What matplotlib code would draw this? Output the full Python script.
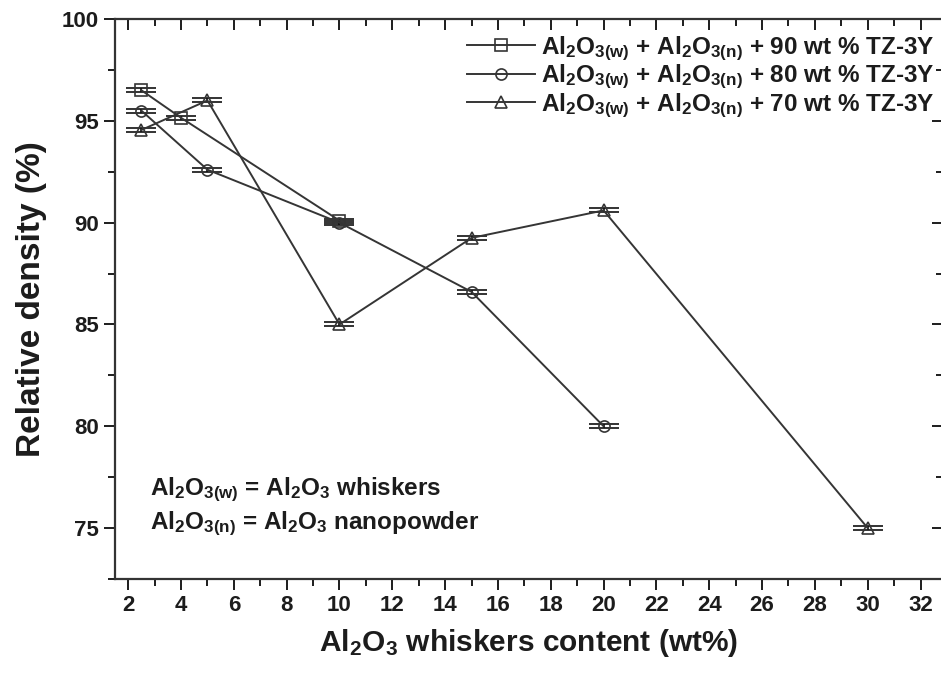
import matplotlib
matplotlib.use("Agg")
import matplotlib.pyplot as plt
from matplotlib.ticker import MultipleLocator

# -------------------------
# Data
# -------------------------
x_90 = [2.5, 4, 10]
y_90 = [96.5, 95.15, 90.1]
e_90 = [0.1, 0.1, 0.1]

x_80 = [2.5, 5, 10, 15, 20]
y_80 = [95.5, 92.6, 90.0, 86.6, 80.0]
e_80 = [0.1, 0.1, 0.1, 0.1, 0.1]

x_70 = [2.5, 5, 10, 15, 20, 30]
y_70 = [94.55, 96.0, 85.0, 89.25, 90.6, 75.0]
e_70 = [0.1, 0.1, 0.1, 0.1, 0.1, 0.1]

labels = [
    r"Al$_2$O$_{3(w)}$ + Al$_2$O$_{3(n)}$ + 90 wt % TZ-3Y",
    r"Al$_2$O$_{3(w)}$ + Al$_2$O$_{3(n)}$ + 80 wt % TZ-3Y",
    r"Al$_2$O$_{3(w)}$ + Al$_2$O$_{3(n)}$ + 70 wt % TZ-3Y",
]

# -------------------------
# Style
# -------------------------
plt.rcParams["font.family"] = ["Liberation Sans", "DejaVu Sans"]
plt.rcParams["font.weight"] = "bold"
plt.rcParams["axes.labelweight"] = "bold"
plt.rcParams["mathtext.fontset"] = "custom"
plt.rcParams["mathtext.rm"] = "Liberation Sans:bold"
plt.rcParams["mathtext.bf"] = "Liberation Sans:bold"
plt.rcParams["mathtext.it"] = "Liberation Sans:bold"
plt.rcParams["mathtext.default"] = "bf"

TEXT = "#1c1c1c"
LINE = "#353535"

fig = plt.figure(figsize=(9.41, 6.79), dpi=100)
ax = fig.add_axes([115 / 941, 1 - 579 / 679, (943 - 115) / 941, (579 - 19) / 679])

series = [
    (x_90, y_90, e_90, "s", labels[0]),
    (x_80, y_80, e_80, "o", labels[1]),
    (x_70, y_70, e_70, "^", labels[2]),
]

handles = []
for xs, ys, es, mk, lab in series:
    cont = ax.errorbar(
        xs, ys, yerr=es,
        color=LINE, linewidth=1.4,
        marker=mk, markersize=8, markerfacecolor="none",
        markeredgecolor=LINE, markeredgewidth=1.2,
        ecolor="#111111", elinewidth=1.2,
        capsize=11, capthick=2.8,
        label=lab,
    )
    handles.append(cont[0])

ax.set_xlim(1.5, 32.85)
ax.set_ylim(72.5, 100)

ax.xaxis.set_major_locator(MultipleLocator(2))
ax.xaxis.set_minor_locator(MultipleLocator(1))
ax.yaxis.set_major_locator(MultipleLocator(5))
ax.yaxis.set_minor_locator(MultipleLocator(2.5))

ax.tick_params(axis="both", which="major", labelsize=16, colors=TEXT,
               width=1.4, length=8)
ax.tick_params(axis="both", which="minor", width=1.4, length=5, colors=TEXT)
ax.tick_params(axis="x", which="both", direction="out", top=True)
ax.tick_params(axis="y", which="both", direction="out", right=True)
# top and right ticks point inward
for t in ax.xaxis.get_ticklines(minor=False)[1::2] + ax.xaxis.get_ticklines(minor=True)[1::2]:
    t.set_marker(3)
for t in ax.yaxis.get_ticklines(minor=False)[1::2] + ax.yaxis.get_ticklines(minor=True)[1::2]:
    t.set_marker(0)

for s in ax.spines.values():
    s.set_linewidth(1.6)
    s.set_color("#333333")

ax.set_xlabel(r"Al$_2$O$_3$ whiskers content (wt%)", fontsize=21.5,
              color=TEXT, labelpad=8)
ax.set_ylabel("Relative density (%)", fontsize=24, color=TEXT, labelpad=11)

leg = ax.legend(handles, labels, loc="upper right", frameon=False, fontsize=17.5,
                handlelength=2.8, handletextpad=0.25, labelspacing=0.0,
                borderaxespad=0.0, bbox_to_anchor=(1.002, 0.99))
for t in leg.get_texts():
    t.set_color(TEXT)

ax.text(0.042, 0.129,
        r"Al$_2$O$_{3(w)}$ = Al$_2$O$_3$ whiskers" + "\n" +
        r"Al$_2$O$_{3(n)}$ = Al$_2$O$_3$ nanopowder",
        transform=ax.transAxes, fontsize=17.5, color=TEXT,
        va="center", ha="left", linespacing=1.3)

fig.savefig("out.png", dpi=100)
